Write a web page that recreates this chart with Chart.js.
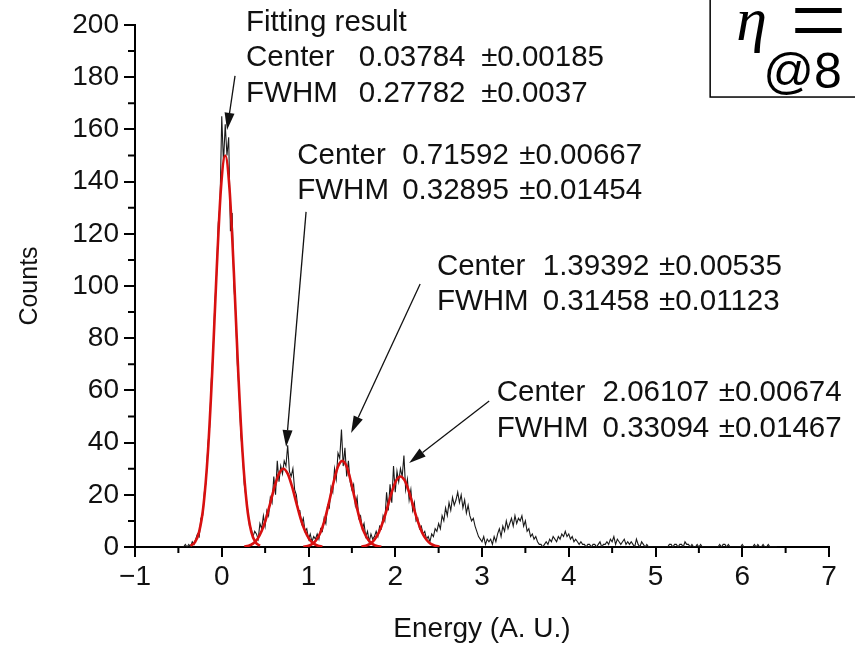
<!DOCTYPE html>
<html lang="en">
<head>
<meta charset="UTF-8">
<title>Energy spectrum with Gaussian fits</title>
<script src="https://cdn.jsdelivr.net/npm/chart.js"></script>
<style>
  html, body { margin: 0; padding: 0; background: #fff; }
  #wrap { width: 855px; height: 646px; position: relative; overflow: hidden; }
</style>
</head>
<body>
<div id="wrap"><canvas id="chart" width="855" height="646"></canvas></div>
<script>
// measured spectrum, bins of 0.02 starting at -0.50
const binStart = -0.5;
const binWidth = 0.02;
const counts = [
  0, 0, 0, 0, 1, 0, 1, 0, 2, 1,
  3, 5, 4, 11, 12, 21, 25, 39, 46, 64,
  74, 93, 104, 124, 131, 165, 147, 162, 150, 157,
  121, 128, 100, 90, 70, 60, 43, 36, 24, 19,
  14, 8, 7, 4, 6, 5, 3, 9, 7, 12,
  8, 14, 12, 19, 17, 27, 20, 33, 25, 31,
  28, 33, 31, 39, 29, 27, 30, 22, 20, 14,
  14, 9, 11, 6, 7, 3, 5, 2, 4, 3,
  5, 3, 7, 6, 11, 9, 16, 15, 23, 21,
  30, 26, 36, 34, 45, 31, 38, 27, 33, 25,
  22, 24, 16, 19, 11, 12, 7, 9, 4, 6,
  2, 5, 3, 4, 6, 4, 8, 7, 12, 10,
  21, 14, 24, 17, 31, 21, 29, 25, 30, 27,
  35, 22, 26, 18, 22, 14, 17, 10, 11, 7,
  8, 5, 6, 3, 4, 2, 5, 4, 7, 6,
  9, 7, 12, 10, 15, 12, 17, 14, 19, 16,
  18, 21, 17, 20, 15, 18, 13, 16, 12, 10,
  11, 8, 6, 4, 3, 2, 4, 1, 3, 2,
  3, 1, 4, 2, 5, 7, 4, 8, 6, 10,
  7, 9, 11, 8, 12, 9, 11, 10, 12, 8,
  10, 6, 7, 4, 5, 3, 4, 2, 1, 1,
  0, 1, 2, 1, 3, 2, 4, 3, 2, 4,
  3, 5, 4, 6, 4, 5, 3, 4, 2, 3,
  2, 1, 2, 1, 1, 0, 1, 1, 0, 1,
  1, 0, 1, 2, 0, 1, 1, 2, 1, 3,
  2, 4, 1, 3, 2, 1, 2, 3, 1, 2,
  1, 2, 1, 0, 3, 1, 0, 2, 1, 0,
  1, 0, 0, 0, 0, 0, 0, 0, 0, 0,
  0, 0, 0, 1, 1, 0, 1, 1, 0, 1,
  1, 0, 2, 1, 1, 0, 1, 0, 0, 1,
  0, 1, 0, 0, 0, 0, 0, 0, 0, 0,
  0, 0, 1, 0, 1, 1, 0, 1, 0, 0,
  0, 0, 0, 0, 0, 1, 0, 0, 0, 0,
  0, 0, 1, 0, 1, 0, 0, 1, 0, 0,
  1, 0, 0, 0, 0, 0
];
const binEnergy = counts.map((_, i) => +(binStart + i * binWidth).toFixed(2));

// fitted gaussians
const fit1X = [-0.36, -0.31, -0.26, -0.21, -0.16, -0.11, -0.06, -0.01, 0.04, 0.09, 0.14, 0.19, 0.24, 0.29, 0.34, 0.39, 0.44];
const fit1Y = [0.5, 1.8, 5.9, 16, 36, 67, 105, 137, 150, 137, 105, 67, 36, 16, 5.9, 1.8, 0.5];
const fit2X = [0.26, 0.31, 0.36, 0.41, 0.46, 0.51, 0.56, 0.61, 0.66, 0.71, 0.76, 0.81, 0.86, 0.91, 0.96, 1.01, 1.06, 1.11, 1.16];
const fit2Y = [0.17, 0.5, 1.3, 3.0, 6.1, 10.8, 16.9, 23.2, 28.1, 30, 28.1, 23.2, 16.9, 10.8, 6.1, 3.0, 1.3, 0.5, 0.17];
const fit3X = [0.94, 0.99, 1.04, 1.09, 1.14, 1.19, 1.24, 1.29, 1.34, 1.39, 1.44, 1.49, 1.54, 1.59, 1.64, 1.69, 1.74, 1.79, 1.84];
const fit3Y = [0.11, 0.37, 1.1, 2.7, 5.7, 10.8, 17.6, 24.9, 30.8, 33, 30.8, 24.9, 17.6, 10.8, 5.7, 2.7, 1.1, 0.37, 0.11];
const fit4X = [1.61, 1.66, 1.71, 1.76, 1.81, 1.86, 1.91, 1.96, 2.01, 2.06, 2.11, 2.16, 2.21, 2.26, 2.31, 2.36, 2.41, 2.46, 2.51];
const fit4Y = [0.16, 0.47, 1.2, 2.8, 5.5, 9.8, 15.3, 21, 25.4, 27, 25.4, 21, 15.3, 9.8, 5.5, 2.8, 1.2, 0.47, 0.16];

// annotation labels (anchored in data units)
const noteLabels = [
  { x: 0.28, y: 201, col2: 1.58, col3: 2.99, rows: [['Fitting result', '', ''], ['Center', '0.03784', '\u00b10.00185'], ['FWHM', '0.27782', '\u00b10.0037']] },
  { x: 0.87, y: 150, col2: 2.08, col3: 3.43, rows: [['Center', '0.71592', '\u00b10.00667'], ['FWHM', '0.32895', '\u00b10.01454']] },
  { x: 2.48, y: 107.5, col2: 3.70, col3: 5.04, rows: [['Center', '1.39392', '\u00b10.00535'], ['FWHM', '0.31458', '\u00b10.01123']] },
  { x: 3.17, y: 59, col2: 4.39, col3: 5.73, rows: [['Center', '2.06107', '\u00b10.00674'], ['FWHM', '0.33094', '\u00b10.01467']] }
];
const arrows = [
  { from: [0.153, 180.5], to: [0.061, 159.8] },
  { from: [0.972, 128.4], to: [0.742, 38.3] },
  { from: [2.287, 100.8], to: [1.491, 43.7] },
  { from: [3.083, 55.9], to: [2.160, 32.2] }
];

const toPoints = (xs, ys) => xs.map((x, i) => ({ x: x, y: ys[i] }));
const fitStyle = {
  showLine: true, borderColor: '#d81010', borderWidth: 2.6, pointRadius: 0,
  cubicInterpolationMode: 'monotone', order: 0
};

// minor ticks, notes, arrows and the eta box
const extras = {
  id: 'extras',
  afterDraw(chart) {
    const ctx = chart.ctx;
    const xs = chart.scales.x, ys = chart.scales.y;
    ctx.save();
    ctx.strokeStyle = '#000';
    ctx.lineWidth = 2;
    ctx.beginPath();
    for (let v = 10; v < 200; v += 20) {
      const py = ys.getPixelForValue(v);
      ctx.moveTo(xs.left - 7, py); ctx.lineTo(xs.left, py);
    }
    for (let v = -0.5; v < 7; v += 1) {
      const px = xs.getPixelForValue(v);
      ctx.moveTo(px, ys.bottom); ctx.lineTo(px, ys.bottom + 6);
    }
    ctx.stroke();

    ctx.fillStyle = '#111';
    ctx.font = '29.5px "Liberation Sans", Arial, sans-serif';
    ctx.textBaseline = 'middle';
    noteLabels.forEach(n => {
      n.rows.forEach((r, i) => {
        const py = ys.getPixelForValue(n.y) + i * 35.5;
        ctx.fillText(r[0], xs.getPixelForValue(n.x), py);
        if (r[1]) ctx.fillText(r[1], xs.getPixelForValue(n.col2), py);
        if (r[2]) ctx.fillText(r[2], xs.getPixelForValue(n.col3), py);
      });
    });

    ctx.strokeStyle = '#111';
    ctx.lineWidth = 1.3;
    arrows.forEach(a => {
      const x0 = xs.getPixelForValue(a.from[0]), y0 = ys.getPixelForValue(a.from[1]);
      const x1 = xs.getPixelForValue(a.to[0]), y1 = ys.getPixelForValue(a.to[1]);
      const ang = Math.atan2(y1 - y0, x1 - x0);
      const len = 17, hw = 5;
      const bx = x1 - len * Math.cos(ang), by = y1 - len * Math.sin(ang);
      ctx.beginPath(); ctx.moveTo(x0, y0); ctx.lineTo(bx, by); ctx.stroke();
      ctx.beginPath();
      ctx.moveTo(x1, y1);
      ctx.lineTo(bx + hw * Math.sin(ang), by - hw * Math.cos(ang));
      ctx.lineTo(bx - hw * Math.sin(ang), by + hw * Math.cos(ang));
      ctx.closePath(); ctx.fill();
    });

    // eta box, cut off by the page edge
    const bl = xs.getPixelForValue(5.63), bb = ys.getPixelForValue(172.4);
    ctx.strokeStyle = '#000';
    ctx.lineWidth = 1.5;
    ctx.strokeRect(bl, -10, 300, bb + 10);
    ctx.fillStyle = '#000';
    ctx.textBaseline = 'alphabetic';
    ctx.font = 'italic 62px "Liberation Serif", "DejaVu Serif", serif';
    ctx.fillText('\u03b7', bl + 26, 40);
    ctx.font = '100px "Liberation Serif", "DejaVu Serif", serif';
    ctx.fillText('=', bl + 80, 54);
    ctx.font = '50px "Liberation Sans", Arial, sans-serif';
    ctx.fillText('@8', bl + 53, 88);
    ctx.restore();
  }
};

new Chart(document.getElementById('chart'), {
  type: 'scatter',
  data: {
    datasets: [
      Object.assign({ data: toPoints(fit1X, fit1Y) }, fitStyle),
      Object.assign({ data: toPoints(fit2X, fit2Y) }, fitStyle),
      Object.assign({ data: toPoints(fit3X, fit3Y) }, fitStyle),
      Object.assign({ data: toPoints(fit4X, fit4Y) }, fitStyle),
      {
        data: toPoints(binEnergy, counts),
        showLine: true, borderColor: '#1a1a1a', borderWidth: 1.1, pointRadius: 0,
        tension: 0, order: 1
      }
    ]
  },
  options: {
    responsive: false,
    animation: false,
    devicePixelRatio: 1,
    layout: { padding: { top: 25, right: 26, left: 0, bottom: 0 } },
    plugins: { legend: { display: false }, tooltip: { enabled: false } },
    scales: {
      x: {
        type: 'linear', min: -1, max: 7,
        ticks: { stepSize: 1, color: '#111', padding: 3, font: { family: '"Liberation Sans", Arial, sans-serif', size: 28 },
                 callback: v => (v < 0 ? '\u2212' + Math.abs(v) : v) },
        grid: { drawOnChartArea: false, drawTicks: true, tickLength: 10, color: '#000', lineWidth: 2 },
        border: { display: true, color: '#000', width: 2 },
        title: { display: true, text: 'Energy (A. U.)', color: '#111',
                 font: { family: '"Liberation Sans", Arial, sans-serif', size: 28 }, padding: { top: 0, bottom: 0 } },
        afterFit: s => { s.height = 99; }
      },
      y: {
        min: 0, max: 200,
        ticks: { stepSize: 20, color: '#111', padding: 5, font: { family: '"Liberation Sans", Arial, sans-serif', size: 28 } },
        grid: { drawOnChartArea: false, drawTicks: true, tickLength: 11, color: '#000', lineWidth: 2 },
        border: { display: true, color: '#000', width: 2 },
        title: { display: true, text: 'Counts', color: '#111',
                 font: { family: '"Liberation Sans", Arial, sans-serif', size: 25 }, padding: { top: 15, bottom: 0 } },
        afterFit: s => { s.width = 135; }
      }
    }
  },
  plugins: [extras]
});
</script>
</body>
</html>
